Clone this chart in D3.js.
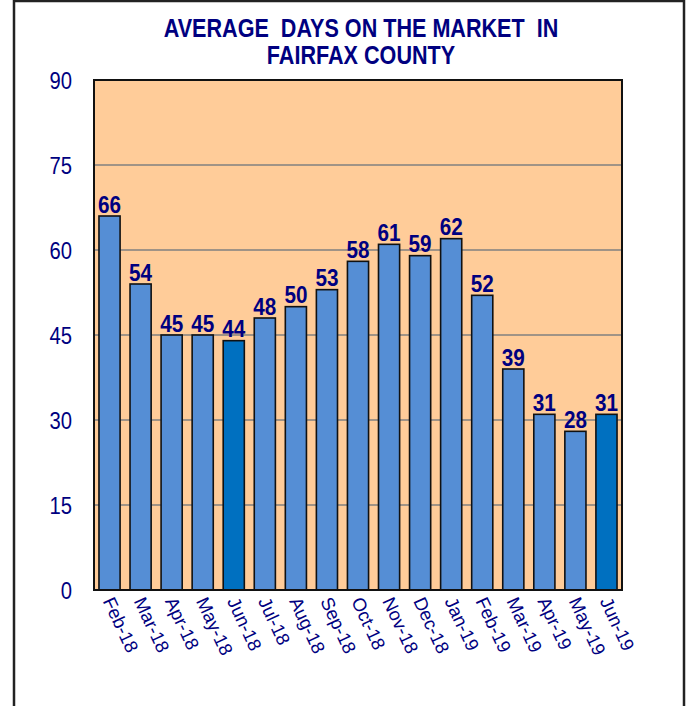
<!DOCTYPE html>
<html>
<head>
<meta charset="utf-8">
<script src="https://cdn.jsdelivr.net/npm/d3@7"></script>
<style>
  html, body { margin: 0; padding: 0; background: #fff; }
  svg { display: block; font-family: Arial, "Liberation Sans", sans-serif; }
</style>
</head>
<body>
<svg id="chart" width="686" height="706"></svg>
<script>
const categories = ["Feb-18","Mar-18","Apr-18","May-18","Jun-18","Jul-18","Aug-18","Sep-18","Oct-18","Nov-18","Dec-18","Jan-19","Feb-19","Mar-19","Apr-19","May-19","Jun-19"];
const values = [66,54,45,45,44,48,50,53,58,61,59,62,52,39,31,28,31];
const highlighted = ["Jun-18","Jun-19"];
const yTicks = [0,15,30,45,60,75,90];
const titleLines = ["AVERAGE  DAYS ON THE MARKET  IN", "FAIRFAX COUNTY"];

const svg = d3.select("#chart");
const navy = "#000080";
const sx = 0.9, sy = 1.05;

// outer frame
svg.append("rect").attr("x", 14).attr("y", 1).attr("width", 670).attr("height", 730)
  .attr("fill", "none").attr("stroke", "#222").attr("stroke-width", 2.5);

const plot = { left: 94, right: 622, top: 80, bottom: 590 };

const x = d3.scaleBand().domain(categories).range([plot.left, plot.right])
  .paddingInner(0.32).paddingOuter(0.16);
const y = d3.scaleLinear().domain([0, 90]).range([plot.bottom, plot.top]);

// title
titleLines.forEach((t, i) => {
  svg.append("g").attr("transform", `translate(361,${37 + i * 26.5}) scale(${sx},${sy})`)
    .append("text").attr("text-anchor", "middle").attr("font-weight", "bold")
    .attr("font-size", 24).attr("fill", navy).style("white-space", "pre").text(t);
});

// plot background
svg.append("rect").attr("x", plot.left).attr("y", plot.top)
  .attr("width", plot.right - plot.left).attr("height", plot.bottom - plot.top)
  .attr("fill", "#FFCC99");

// gridlines
svg.append("g").selectAll("line").data(yTicks.filter(d => d > 0 && d < 90)).join("line")
  .attr("x1", plot.left).attr("x2", plot.right)
  .attr("y1", d => y(d)).attr("y2", d => y(d))
  .attr("stroke", "#808080").attr("stroke-width", 1.6);

// y tick labels via axis
const yAxis = svg.append("g").attr("transform", `translate(${plot.left},0)`)
  .call(d3.axisLeft(y).tickValues(yTicks).tickSize(0).tickPadding(0));
yAxis.select(".domain").remove();
yAxis.selectAll(".tick text").each(function(d) {
  const g = d3.select(this.parentNode);
  d3.select(this).remove();
  g.append("g").attr("transform", `translate(-22,8.5) scale(${sx},${sy})`)
    .append("text").attr("text-anchor", "end").attr("font-size", 22.5)
    .attr("fill", navy).text(d);
});

// bars
svg.append("g").selectAll("rect").data(categories).join("rect")
  .attr("x", d => x(d)).attr("width", x.bandwidth())
  .attr("y", (d, i) => y(values[i])).attr("height", (d, i) => y(0) - y(values[i]))
  .attr("fill", d => highlighted.includes(d) ? "#0070C0" : "#558ED5")
  .attr("stroke", "#111").attr("stroke-width", 1.6);

// value labels
svg.append("g").selectAll("g").data(categories).join("g")
  .attr("transform", (d, i) => `translate(${x(d) + x.bandwidth() / 2},${y(values[i]) - 3.5}) scale(${sx},${sy})`)
  .append("text").attr("text-anchor", "middle").attr("font-weight", "bold")
  .attr("font-size", 23).attr("fill", navy).text((d, i) => values[i]);

// plot border
svg.append("rect").attr("x", plot.left).attr("y", plot.top)
  .attr("width", plot.right - plot.left).attr("height", plot.bottom - plot.top)
  .attr("fill", "none").attr("stroke", "#111").attr("stroke-width", 2);

// x axis labels
const xAxis = svg.append("g").attr("transform", `translate(0,${plot.bottom})`)
  .call(d3.axisBottom(x).tickSize(0).tickPadding(0));
xAxis.select(".domain").remove();
xAxis.selectAll(".tick text")
  .attr("y", null).attr("dy", null)
  .attr("text-anchor", "start").attr("font-size", 18.5).attr("fill", navy)
  .attr("font-family", "Arial, 'Liberation Sans', sans-serif")
  .attr("transform", "translate(-7,11) rotate(65)");
</script>
</body>
</html>
